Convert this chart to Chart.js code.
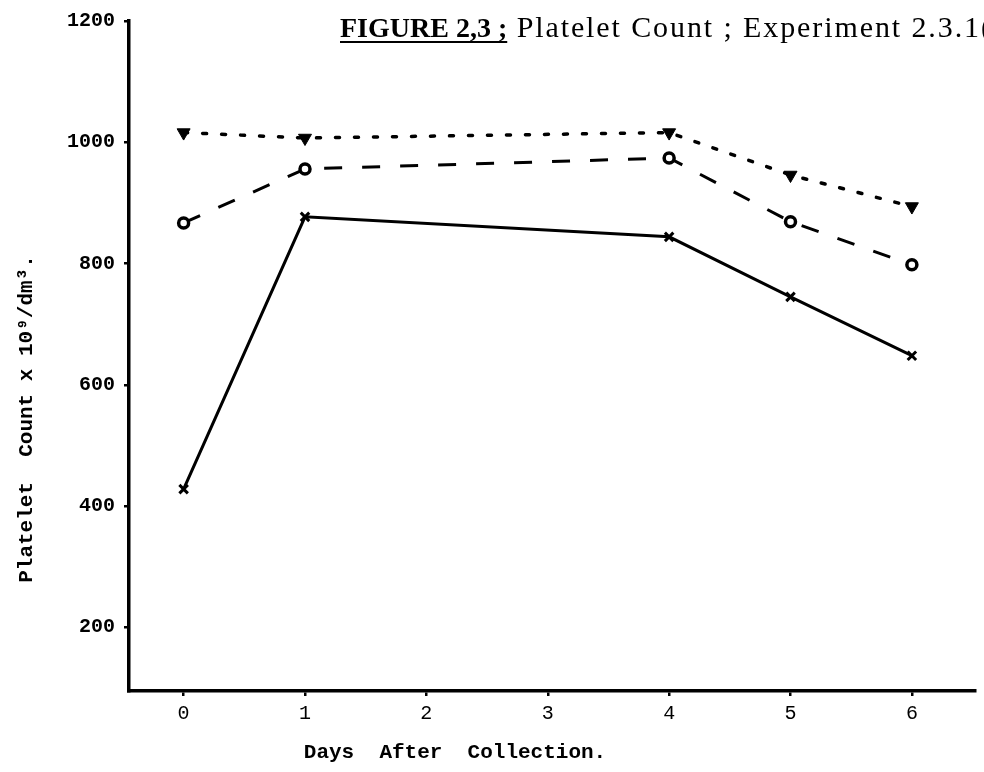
<!DOCTYPE html>
<html>
<head>
<meta charset="utf-8">
<title>Platelet Count</title>
<script src="https://cdn.jsdelivr.net/npm/chart.js@4/dist/chart.umd.min.js"></script>
<style>
 html,body{margin:0;padding:0;background:#fff;overflow:hidden;}
 #wrap{position:relative;width:984px;height:772px;overflow:hidden;}
 #figure_title{position:absolute;left:340px;top:12px;white-space:nowrap;font-family:"Liberation Serif",serif;line-height:30px;color:#000;}
 #figure_title b{font-size:28px;text-decoration:underline;text-decoration-thickness:2px;text-underline-offset:4px;}
 #figure_title span{font-size:30px;letter-spacing:1.9px;}
</style>
</head>
<body>
<div id="wrap">
 <canvas id="canvas_platelet" width="984" height="772"></canvas>
 <div id="figure_title"><b>FIGURE 2,3 ;</b><span> Platelet Count ; Experiment 2.3.1(</span></div>
</div>
<script>
 /* data */
 var days=[0,1,4,5,6];
 var triangle_counts=[1016,1007,1016,946,894];
 var circle_counts=[867,956,974,869,798];
 var cross_counts=[428,877,844,745,648];
 var day_ticks=[0,1,2,3,4,5,6];
 var count_ticks=[200,400,600,800,1000,1200];
 var x_title="Days  After  Collection.";
 var y_title="Platelet  Count x 10\u2079/dm\u00b3.";

 /* helpers */
 function points(values){
  return days.map(function(d,i){return {x:d,y:values[i]};});
 }
 function fixed_ticks(list){
  return function(scale){scale.ticks=list.map(function(v){return {value:v};});};
 }
 function plain_number(value){return String(value);}

 /* axis titles drawn off-centre */
 var axis_titles={
  id:'axis_titles',
  afterDraw:function(chart){
   var ctx=chart.ctx;
   ctx.save();
   ctx.fillStyle='#000';
   ctx.font='bold 21px "Liberation Mono", monospace';
   ctx.textAlign='center';
   ctx.textBaseline='middle';
   ctx.fillText(x_title,455,753);
   ctx.translate(27,419);
   ctx.rotate(-Math.PI/2);
   ctx.fillText(y_title,0,0);
   ctx.restore();
  }
 };

 /* chart */
 var ctx=document.getElementById("canvas_platelet").getContext('2d');
 var mono='"Liberation Mono", monospace';
 var myChart=new Chart(ctx,{
  type:'line',
  data:{
   datasets:[
    {
     label:'triangle',
     data:points(triangle_counts),
     borderColor:'#000',
     backgroundColor:'#000',
     borderWidth:3.5,
     borderDash:[4,15],
     borderCapStyle:'round',
     pointStyle:'triangle',
     pointRotation:180,
     pointRadius:7.5,
     pointBorderWidth:1,
     fill:false
    },
    {
     label:'circle',
     data:points(circle_counts),
     borderColor:'#000',
     backgroundColor:'#fff',
     borderWidth:3,
     borderDash:[18,20],
     pointStyle:'circle',
     pointRadius:5,
     pointBorderWidth:3.5,
     fill:false
    },
    {
     label:'cross',
     data:points(cross_counts),
     borderColor:'#000',
     backgroundColor:'#000',
     borderWidth:3,
     pointStyle:'crossRot',
     pointRadius:6,
     pointBorderWidth:3,
     fill:false
    }
   ]
  },
  options:{
   responsive:false,
   animation:false,
   devicePixelRatio:1,
   layout:{padding:{top:20,right:7,left:0,bottom:0}},
   elements:{line:{tension:0}},
   plugins:{legend:{display:false},tooltip:{enabled:false},title:{display:false}},
   scales:{
    x:{
     type:'linear',
     min:-0.45,
     max:6.52,
     afterBuildTicks:fixed_ticks(day_ticks),
     afterFit:function(scale){scale.height=81;},
     border:{display:true,color:'#000',width:3.5},
     grid:{display:true,drawOnChartArea:false,drawTicks:true,tickLength:5,color:'#000',lineWidth:2.5},
     ticks:{color:'#000',font:{family:mono,size:20},padding:6,maxRotation:0,autoSkip:false,callback:plain_number}
    },
    y:{
     type:'linear',
     min:95,
     max:1200,
     afterBuildTicks:fixed_ticks(count_ticks),
     afterFit:function(scale){scale.width=129;},
     border:{display:true,color:'#000',width:3.5},
     grid:{display:true,drawOnChartArea:false,drawTicks:true,tickLength:5,color:'#000',lineWidth:2.5},
     ticks:{color:'#000',font:{family:mono,size:20,weight:'bold'},padding:9,autoSkip:false,callback:plain_number}
    }
   }
  },
  plugins:[axis_titles]
 });
</script>
</body>
</html>
